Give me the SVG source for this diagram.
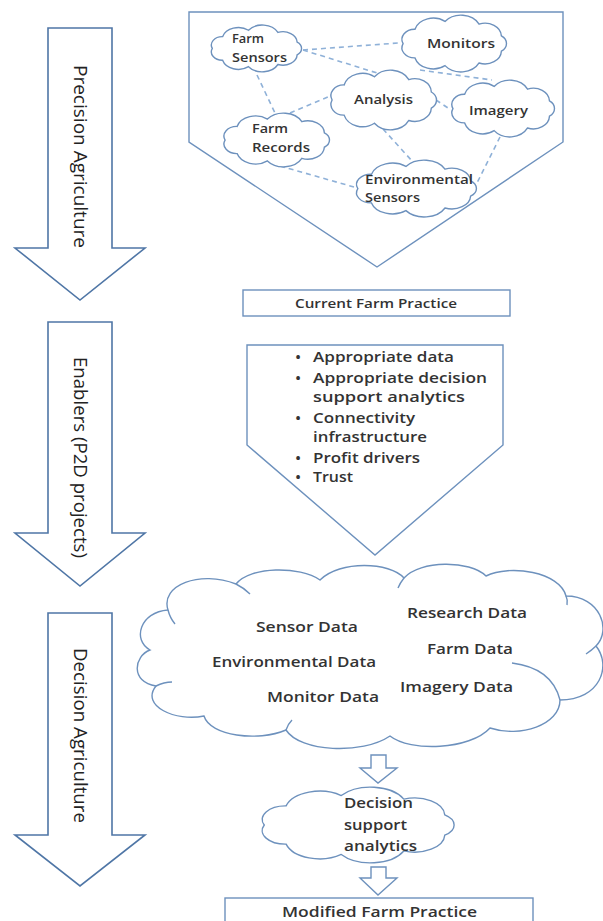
<svg xmlns="http://www.w3.org/2000/svg" width="603" height="921" viewBox="0 0 603 921">
<style>
.big{fill:#fff;stroke:#4f76a6;stroke-width:1.6;stroke-linejoin:miter}
.box{fill:#fff;stroke:#6d91bd;stroke-width:1.4}
.cloud{fill:#fff;stroke:#6d91bd;stroke-width:1.4}
.crease{fill:none;stroke:#6d91bd;stroke-width:1.4}
.dash{fill:none;stroke:#8fb1d8;stroke-width:1.6;stroke-dasharray:5 4}
.lbl{font-family:"Open Sans","Liberation Sans",sans-serif;font-size:19px;fill:#222;text-anchor:middle}
.t{font-family:"Open Sans","Liberation Sans",sans-serif;font-weight:600;fill:#333}
.s13{font-size:13px}
.s14{font-size:14px}
.s15{font-size:15px}
.s12{font-size:12px}
</style>

<g id="arrow-precision">
<polygon class="big" points="48,28 112,28 112,248 145,248 80,300 15,248 48,248"/>
<text class="lbl" transform="translate(80,156.5) rotate(90)" y="6.5" textLength="183" lengthAdjust="spacingAndGlyphs">Precision Agriculture</text>
</g>
<g id="arrow-enablers">
<polygon class="big" points="48,322 112,322 112,533 145,533 80,586 15,533 48,533"/>
<text class="lbl" transform="translate(80,457.5) rotate(90)" y="6.5" textLength="201" lengthAdjust="spacingAndGlyphs">Enablers (P2D projects)</text>
</g>
<g id="arrow-decision">
<polygon class="big" points="48,613 112,613 112,835 145,835 80,886 15,835 48,835"/>
<text class="lbl" transform="translate(80,735.5) rotate(90)" y="6.5" textLength="175" lengthAdjust="spacingAndGlyphs">Decision Agriculture</text>
</g>

<g id="precision-panel">
<polygon class="box" points="189,12 563,12 563,142 377,267 189,142"/>
</g>

<g id="connectors">
<line class="dash" x1="303" y1="50" x2="398" y2="43"/>
<line class="dash" x1="303" y1="50" x2="377" y2="73"/>
<line class="dash" x1="420" y1="70" x2="492" y2="80"/>
<line class="dash" x1="257" y1="75" x2="275" y2="113"/>
<line class="dash" x1="290" y1="113" x2="328" y2="97"/>
<line class="dash" x1="436" y1="100" x2="451" y2="110"/>
<line class="dash" x1="383" y1="129" x2="413" y2="162"/>
<line class="dash" x1="280" y1="166" x2="354" y2="187"/>
<line class="dash" x1="500" y1="137" x2="477" y2="183"/>
</g>

<g id="farm-sensors">
<path class="cloud" vector-effect="non-scaling-stroke" transform="translate(201.4,23.3) scale(1.093,0.839)" d="M10,30 A10,10 0 0 1 19.4,15.9 A15,15 0 0 1 43.1,8.3 A16,16 0 0 1 70,10.9 A13,13 0 0 1 87.6,22.5 A9,9 0 0 1 87.6,37.5 A13,13 0 0 1 70,49.1 A16,16 0 0 1 43.1,51.7 A15,15 0 0 1 19.4,44.1 A10,10 0 0 1 10,30 Z"/>
<text class="t s13" x="232" y="42.5" textLength="32" lengthAdjust="spacingAndGlyphs">Farm</text>
<text class="t s13" x="232" y="61.5" textLength="55" lengthAdjust="spacingAndGlyphs">Sensors</text>
</g>
<g id="monitors">
<path class="cloud" vector-effect="non-scaling-stroke" transform="translate(390.4,13) scale(1.267,1.018)" d="M10,30 A10,10 0 0 1 19.4,15.9 A15,15 0 0 1 43.1,8.3 A16,16 0 0 1 70,10.9 A13,13 0 0 1 87.6,22.5 A9,9 0 0 1 87.6,37.5 A13,13 0 0 1 70,49.1 A16,16 0 0 1 43.1,51.7 A15,15 0 0 1 19.4,44.1 A10,10 0 0 1 10,30 Z"/>
<text class="t s13" x="427" y="47.5" textLength="68" lengthAdjust="spacingAndGlyphs">Monitors</text>
</g>
<g id="analysis">
<path class="cloud" vector-effect="non-scaling-stroke" transform="translate(319.3,67.9) scale(1.279,1.071)" d="M10,30 A10,10 0 0 1 19.4,15.9 A15,15 0 0 1 43.1,8.3 A16,16 0 0 1 70,10.9 A13,13 0 0 1 87.6,22.5 A9,9 0 0 1 87.6,37.5 A13,13 0 0 1 70,49.1 A16,16 0 0 1 43.1,51.7 A15,15 0 0 1 19.4,44.1 A10,10 0 0 1 10,30 Z"/>
<text class="t s13" x="354" y="103.5" textLength="59" lengthAdjust="spacingAndGlyphs">Analysis</text>
</g>
<g id="imagery">
<path class="cloud" vector-effect="non-scaling-stroke" transform="translate(440.5,78) scale(1.244,1.018)" d="M10,30 A10,10 0 0 1 19.4,15.9 A15,15 0 0 1 43.1,8.3 A16,16 0 0 1 70,10.9 A13,13 0 0 1 87.6,22.5 A9,9 0 0 1 87.6,37.5 A13,13 0 0 1 70,49.1 A16,16 0 0 1 43.1,51.7 A15,15 0 0 1 19.4,44.1 A10,10 0 0 1 10,30 Z"/>
<text class="t s13" x="469" y="114.5" textLength="59" lengthAdjust="spacingAndGlyphs">Imagery</text>
</g>
<g id="farm-records">
<path class="cloud" vector-effect="non-scaling-stroke" transform="translate(212.3,111.1) scale(1.279,0.964)" d="M10,30 A10,10 0 0 1 19.4,15.9 A15,15 0 0 1 43.1,8.3 A16,16 0 0 1 70,10.9 A13,13 0 0 1 87.6,22.5 A9,9 0 0 1 87.6,37.5 A13,13 0 0 1 70,49.1 A16,16 0 0 1 43.1,51.7 A15,15 0 0 1 19.4,44.1 A10,10 0 0 1 10,30 Z"/>
<text class="t s13" x="252" y="132.5" textLength="36" lengthAdjust="spacingAndGlyphs">Farm</text>
<text class="t s13" x="252" y="151.5" textLength="58" lengthAdjust="spacingAndGlyphs">Records</text>
</g>
<g id="environmental-sensors">
<path class="cloud" vector-effect="non-scaling-stroke" transform="translate(343.3,158) scale(1.453,1.018)" d="M10,30 A10,10 0 0 1 19.4,15.9 A15,15 0 0 1 43.1,8.3 A16,16 0 0 1 70,10.9 A13,13 0 0 1 87.6,22.5 A9,9 0 0 1 87.6,37.5 A13,13 0 0 1 70,49.1 A16,16 0 0 1 43.1,51.7 A15,15 0 0 1 19.4,44.1 A10,10 0 0 1 10,30 Z"/>
<text class="t s13" x="365" y="183.5" textLength="108" lengthAdjust="spacingAndGlyphs">Environmental</text>
<text class="t s13" x="365" y="201.5" textLength="55" lengthAdjust="spacingAndGlyphs">Sensors</text>
</g>

<g id="current-farm-practice">
<rect class="box" x="243" y="290" width="267" height="26"/>
<text class="t s12" x="376" y="308" text-anchor="middle" textLength="162" lengthAdjust="spacingAndGlyphs">Current Farm Practice</text>
</g>

<g id="enablers-panel">
<polygon class="box" points="247,345 503,345 503,445 375,555 247,445"/>
<g class="t s15">
<text x="298" y="362" text-anchor="middle">•</text>
<text x="313" y="362" textLength="141" lengthAdjust="spacingAndGlyphs">Appropriate data</text>
<text x="298" y="383" text-anchor="middle">•</text>
<text x="313" y="383" textLength="174" lengthAdjust="spacingAndGlyphs">Appropriate decision</text>
<text x="313" y="402" textLength="152" lengthAdjust="spacingAndGlyphs">support analytics</text>
<text x="298" y="423" text-anchor="middle">•</text>
<text x="313" y="423" textLength="102" lengthAdjust="spacingAndGlyphs">Connectivity</text>
<text x="313" y="442" textLength="114" lengthAdjust="spacingAndGlyphs">infrastructure</text>
<text x="298" y="463" text-anchor="middle">•</text>
<text x="313" y="463" textLength="107" lengthAdjust="spacingAndGlyphs">Profit drivers</text>
<text x="298" y="482" text-anchor="middle">•</text>
<text x="313" y="482" textLength="40" lengthAdjust="spacingAndGlyphs">Trust</text>
</g>
</g>

<g id="data-cloud">
<path class="cloud" d="M150,650 C132,640 140,612 168,610 C160,585 200,570 236,584 C250,566 300,566 320,580 C340,560 390,562 404,578 C420,560 470,560 486,576 C510,564 560,572 566,596 C600,596 612,630 596,646 C612,666 600,700 560,700 C560,725 520,738 490,728 C470,750 410,752 390,736 C362,755 300,752 286,730 C258,742 210,736 204,716 C176,722 140,706 156,686 C130,682 134,656 150,650 Z"/>
<path class="crease" d="M236,584 Q244,588 250,594"/>
<path class="crease" d="M404,578 Q400,583 398,588"/>
<path class="crease" d="M566,596 Q568,600 567,605"/>
<path class="crease" d="M596,646 Q592,650 586,654"/>
<path class="crease" d="M512,663 Q552,668 560,700"/>
<path class="crease" d="M168,610 Q170,618 175,624"/>
<path class="crease" d="M156,686 Q164,682 172,682"/>
<path class="crease" d="M286,730 Q288,724 292,720"/>
<g class="t s15">
<text x="256" y="632" textLength="102" lengthAdjust="spacingAndGlyphs">Sensor Data</text>
<text x="407" y="618" textLength="120" lengthAdjust="spacingAndGlyphs">Research Data</text>
<text x="427" y="654" textLength="86" lengthAdjust="spacingAndGlyphs">Farm Data</text>
<text x="212" y="667" textLength="164" lengthAdjust="spacingAndGlyphs">Environmental Data</text>
<text x="400" y="692" textLength="113" lengthAdjust="spacingAndGlyphs">Imagery Data</text>
<text x="267" y="702" textLength="112" lengthAdjust="spacingAndGlyphs">Monitor Data</text>
</g>
</g>

<g id="arrow-small-1">
<polygon class="box" points="371,755 386,755 386,768 397,768 378,783 360,768 371,768"/>
</g>

<g id="decision-support-cloud">
<path class="cloud" vector-effect="non-scaling-stroke" transform="translate(241,784.3) scale(2.326,1.357)" d="M10,30 A10,10 0 0 1 19.4,15.9 A15,15 0 0 1 43.1,8.3 A16,16 0 0 1 70,10.9 A13,13 0 0 1 87.6,22.5 A9,9 0 0 1 87.6,37.5 A13,13 0 0 1 70,49.1 A16,16 0 0 1 43.1,51.7 A15,15 0 0 1 19.4,44.1 A10,10 0 0 1 10,30 Z"/>
<g class="t s15">
<text x="344" y="808" textLength="69" lengthAdjust="spacingAndGlyphs">Decision</text>
<text x="344" y="830" textLength="63" lengthAdjust="spacingAndGlyphs">support</text>
<text x="344" y="851" textLength="73" lengthAdjust="spacingAndGlyphs">analytics</text>
</g>
</g>

<g id="arrow-small-2">
<polygon class="box" points="371,867 386,867 386,878 397,878 378,895 360,878 371,878"/>
</g>

<g id="modified-farm-practice">
<rect class="box" x="225" y="898" width="308" height="30"/>
<text class="t s14" x="379.5" y="917" text-anchor="middle" textLength="195" lengthAdjust="spacingAndGlyphs">Modified Farm Practice</text>
</g>
</svg>
